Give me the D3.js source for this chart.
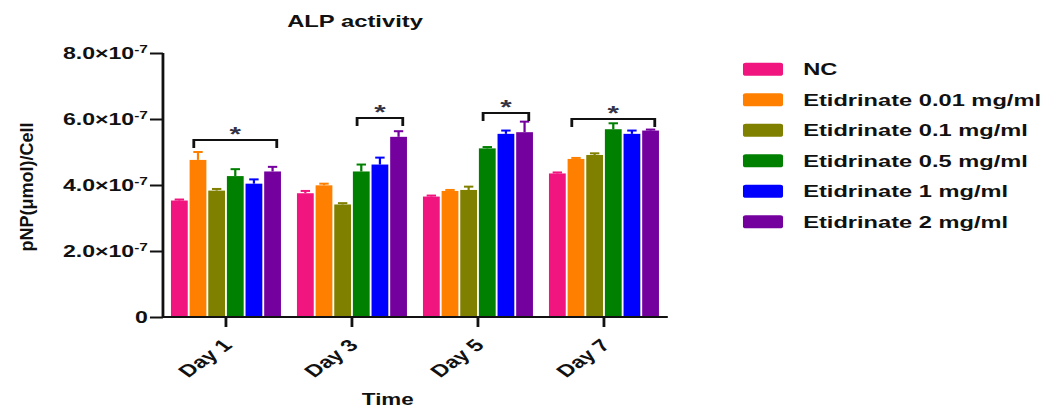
<!DOCTYPE html>
<html><head><meta charset="utf-8">
<script src="https://cdn.jsdelivr.net/npm/d3@7"></script>
<style>
body{margin:0;background:#fff;}
text{font-family:"Liberation Sans",Arial,Helvetica,sans-serif;font-weight:bold;fill:#111;}
</style>
</head><body>
<svg id="chart" width="1051" height="410"></svg>
<script>
// ---- data ----
const days = ["Day 1", "Day 3", "Day 5", "Day 7"];
const seriesNames = ["NC", "Etidrinate 0.01 mg/ml", "Etidrinate 0.1 mg/ml", "Etidrinate 0.5 mg/ml", "Etidrinate 1 mg/ml", "Etidrinate 2 mg/ml"];
const seriesColors = ["#F0157F", "#FF8000", "#808000", "#008000", "#0000FF", "#74009E"];
const valNC   = [3.53e-7, 3.75e-7, 3.65e-7, 4.35e-7];
const val001  = [4.76e-7, 3.99e-7, 3.82e-7, 4.79e-7];
const val01   = [3.83e-7, 3.41e-7, 3.85e-7, 4.91e-7];
const val05   = [4.27e-7, 4.41e-7, 5.11e-7, 5.69e-7];
const val1    = [4.04e-7, 4.62e-7, 5.55e-7, 5.55e-7];
const val2    = [4.41e-7, 5.46e-7, 5.60e-7, 5.65e-7];
const errNC   = [0.03e-7, 0.07e-7, 0.03e-7, 0.03e-7];
const err001  = [0.24e-7, 0.05e-7, 0.03e-7, 0.03e-7];
const err01   = [0.05e-7, 0.04e-7, 0.10e-7, 0.05e-7];
const err05   = [0.21e-7, 0.21e-7, 0.04e-7, 0.18e-7];
const err1    = [0.13e-7, 0.21e-7, 0.10e-7, 0.10e-7];
const err2    = [0.14e-7, 0.17e-7, 0.32e-7, 0.03e-7];
const yTicks  = [0, 2e-7, 4e-7, 6e-7, 8e-7];
const bracketDays  = ["Day 1", "Day 3", "Day 5", "Day 7"];
const bracketFrom  = [1, 3, 3, 1];
const bracketTo    = [5, 5, 5, 5];
const bracketLevel = [5.36e-7, 6.03e-7, 6.18e-7, 6.00e-7];
const titleText = "ALP activity";
const xTitle = "Time";
const yTitle = "pNP(\u03bcmol)/Cell";

const allValues = [valNC, val001, val01, val05, val1, val2];
const allErrors = [errNC, err001, err01, err05, err1, err2];

// ---- layout ----
const SX = 1.4;              // horizontal stretch of the original picture
const svg = d3.select("#chart");
const g = svg.append("g").attr("transform", `scale(${SX},1)`);

const x0 = d3.scaleBand().domain(days).range([116.4, 476.4]).paddingInner(0.127).paddingOuter(0.0635);
const x1 = d3.scaleBand().domain(d3.range(seriesNames.length)).range([0, x0.bandwidth()]).paddingInner(0.1);
const y = d3.scaleLinear().domain([0, 8e-7]).range([317, 53]);

// bars
const cells = [];
days.forEach((d, di) => seriesNames.forEach((s, si) => cells.push({day: d, si, v: allValues[si][di], e: allErrors[si][di]})));

const groups = g.append("g").selectAll("g").data(cells).join("g")
  .attr("transform", c => `translate(${x0(c.day) + x1(c.si)},0)`);
groups.append("rect")
  .attr("x", 0).attr("width", x1.bandwidth())
  .attr("y", c => y(c.v)).attr("height", c => y(0) - y(c.v))
  .attr("fill", c => seriesColors[c.si]);
// error bars
groups.append("line")
  .attr("x1", x1.bandwidth()/2).attr("x2", x1.bandwidth()/2)
  .attr("y1", c => y(c.v)).attr("y2", c => y(c.v + c.e))
  .attr("stroke", c => seriesColors[c.si]).attr("stroke-width", 1.6);
groups.append("line")
  .attr("x1", x1.bandwidth()*0.22).attr("x2", x1.bandwidth()*0.78)
  .attr("y1", c => y(c.v + c.e)).attr("y2", c => y(c.v + c.e))
  .attr("stroke", c => seriesColors[c.si]).attr("stroke-width", 2);

// axes
const yAxis = d3.axisLeft(y).tickValues(yTicks).tickSize(9.3).tickPadding(1.5).tickFormat(() => "");
const yg = g.append("g").attr("transform", "translate(116.4,0)").call(yAxis);
yg.select(".domain").attr("d", `M0,${y(8e-7)}V${y(0)}`).attr("stroke", "#111").attr("stroke-width", 2);
yg.selectAll(".tick line").attr("stroke", "#111").attr("stroke-width", 2);
yg.selectAll(".tick text").each(function(v) {
  const t = d3.select(this).attr("font-size", 16.5).attr("dy", "0.36em");
  if (v === 0) { t.text("0"); return; }
  const m = (v / 1e-7).toFixed(1);
  t.append("tspan").text(m + "\u00d710");
  t.append("tspan").attr("font-size", 11).attr("dy", "-0.55em").text("-7");
});

const xAxis = d3.axisBottom(x0).tickSize(10).tickPadding(4).tickSizeOuter(0);
const xg = g.append("g").attr("transform", `translate(0,${y(0)})`).call(xAxis);
xg.select(".domain").attr("d", `M116.4,0H477`).attr("stroke", "#111").attr("stroke-width", 2.2);
xg.selectAll(".tick line").attr("stroke", "#111").attr("stroke-width", 2);
xg.selectAll(".tick text")
  .attr("font-size", 17)
  .attr("text-anchor", "end")
  .attr("transform", "translate(1,25) rotate(-45)")
  .attr("dy", "0.35em").attr("y", 0).attr("x", 0)
  .style("fill", "#111");

// brackets and stars
bracketDays.forEach((d, i) => {
  const bw = x1.bandwidth();
  const xa = x0(d) + x1(bracketFrom[i]) + bw * 0.25;
  const xb = x0(d) + x1(bracketTo[i]) + bw * 0.75;
  const yy = y(bracketLevel[i]);
  g.append("path")
    .attr("d", `M${xa},${yy + 8}V${yy}H${xb}V${yy + 8}`)
    .attr("fill", "none").attr("stroke", "#111").attr("stroke-width", 2);
  g.append("text").attr("x", (xa + xb) / 2).attr("y", yy + 1)
    .attr("text-anchor", "middle").attr("font-size", 21)
    .style("fill", "#333345").text("*");
});

// titles
g.append("text").attr("x", 253.6).attr("y", 27).attr("text-anchor", "middle")
  .attr("font-size", 17).text(titleText);
g.append("text").attr("x", 277).attr("y", 405).attr("text-anchor", "middle")
  .attr("font-size", 16).text(xTitle);
svg.append("text").attr("transform", "translate(33,187) rotate(-90)")
  .attr("text-anchor", "middle").attr("font-size", 18).text(yTitle);

// legend
const lg = g.append("g").selectAll("g").data(seriesNames).join("g")
  .attr("transform", (d, i) => `translate(530.7,${69.3 + i * 30.5})`);
lg.append("rect").attr("x", 0).attr("y", -6.5).attr("width", 28.6).attr("height", 13)
  .attr("rx", 2).attr("fill", (d, i) => seriesColors[i]);
lg.append("text").attr("x", 43).attr("y", 0).attr("dy", "0.36em")
  .attr("font-size", 16.9).text(d => d);
</script>
</body></html>
